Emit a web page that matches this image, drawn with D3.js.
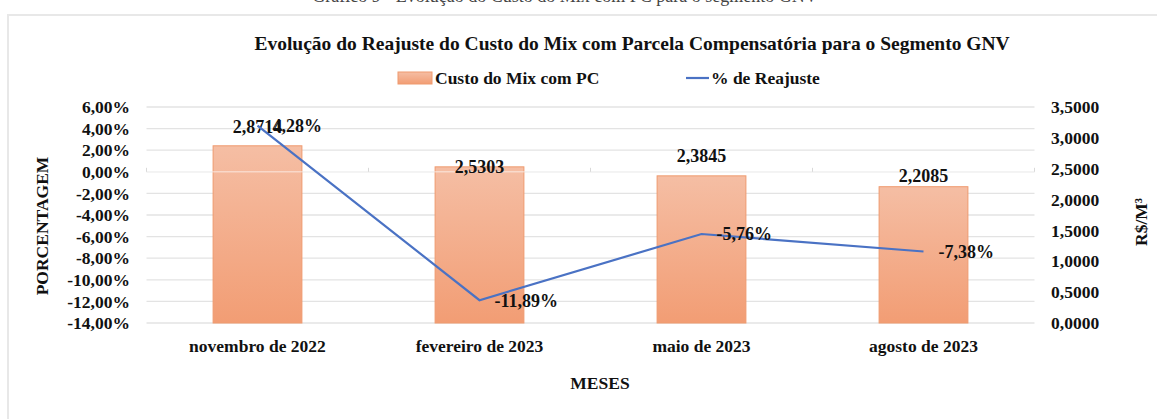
<!DOCTYPE html>
<html>
<head>
<meta charset="utf-8">
<script src="https://cdn.jsdelivr.net/npm/d3@7"></script>
<style>
body{margin:0;background:#fff;}
text{font-family:"Liberation Serif","Times New Roman",serif;}
</style>
</head>
<body>
<div id="chart-area"></div>
<script>
// dados
var meses=["novembro de 2022","fevereiro de 2023","maio de 2023","agosto de 2023"];
var custoMix=[2.8714,2.5303,2.3845,2.2085];
var reajuste=[4.28,-11.89,-5.76,-7.38];
var ticksPct=[6,4,2,0,-2,-4,-6,-8,-10,-12,-14];
var ticksRs=[0,0.5,1,1.5,2,2.5,3,3.5];

var W=1157,H=419;
var plot={left:146.5,right:1034.5,top:107,bottom:323};
var barLabelDy=[-19,0,-20,-11];
var fs="17.5px";

var svg=d3.select("#chart-area").append("svg")
    .attr("width",W)
    .attr("height",H);

// moldura
svg.append("path")
    .attr("d","M8,"+H+" L8,15 L"+W+",15")
    .attr("fill","none")
    .attr("stroke","#e8e8e8")
    .attr("stroke-width",2);

// legenda de cima (cortada)
svg.append("text")
    .attr("x",565)
    .attr("y",2)
    .attr("text-anchor","middle")
    .attr("font-size","18px")
    .attr("fill","#444")
    .text("Gráfico 9 - Evolução do Custo do Mix com PC para o segmento GNV");

var x=d3.scaleBand()
    .domain(meses)
    .range([plot.left,plot.right])
    .paddingInner(0.6)
    .paddingOuter(0.3);

var yPct=d3.scaleLinear()
    .domain([-14,6])
    .range([plot.bottom,plot.top]);

var yRs=d3.scaleLinear()
    .domain([0,3.5])
    .range([plot.bottom,plot.top]);

var fmtPct=function(d){return d3.format(".2f")(d).replace(".",",").replace("\u2212","-")+"%";};
var fmtRs=function(d){return d3.format(".4f")(d).replace(".",",");};

var defs=svg.append("defs");
var grad=defs.append("linearGradient")
    .attr("id","barGrad")
    .attr("x1",0).attr("y1",0).attr("x2",0).attr("y2",1);
grad.append("stop").attr("offset","0%").attr("stop-color","#f5bea4");
grad.append("stop").attr("offset","100%").attr("stop-color","#f29d74");

// grade
svg.append("g")
    .selectAll("line")
    .data(ticksPct)
    .enter().append("line")
    .attr("x1",plot.left)
    .attr("x2",plot.right)
    .attr("y1",function(d){return yPct(d);})
    .attr("y2",function(d){return yPct(d);})
    .attr("stroke","#e3e3e3")
    .attr("stroke-width",1.3);

// eixos
var leftAxis=d3.axisLeft(yPct).tickValues(ticksPct).tickSize(0).tickPadding(0).tickFormat(fmtPct);
var gl=svg.append("g")
    .attr("transform","translate(130,0)")
    .call(leftAxis);
gl.select(".domain").remove();
gl.selectAll("text")
    .attr("font-size",fs)
    .attr("font-weight","bold")
    .attr("fill","#111");

var rightAxis=d3.axisRight(yRs).tickValues(ticksRs).tickSize(0).tickPadding(0).tickFormat(fmtRs);
var gr=svg.append("g")
    .attr("transform","translate(1051,0)")
    .call(rightAxis);
gr.select(".domain").remove();
gr.selectAll("text")
    .attr("font-size",fs)
    .attr("font-weight","bold")
    .attr("fill","#111");

// barras
svg.append("g")
    .selectAll("rect")
    .data(custoMix)
    .enter().append("rect")
    .attr("x",function(d,i){return x(meses[i]);})
    .attr("y",function(d){return yRs(d);})
    .attr("width",x.bandwidth())
    .attr("height",function(d){return yRs(0)-yRs(d);})
    .attr("fill","url(#barGrad)")
    .attr("stroke","#ef9a6e")
    .attr("stroke-width",1);

// linha do eixo de categorias (em 0%)
var step=x.step();
svg.append("line")
    .attr("x1",plot.left)
    .attr("x2",plot.right)
    .attr("y1",yPct(0))
    .attr("y2",yPct(0))
    .attr("stroke","#ffffff")
    .attr("stroke-opacity",0.45)
    .attr("stroke-width",1.5);
svg.append("g")
    .selectAll("line")
    .data(d3.range(meses.length+1))
    .enter().append("line")
    .attr("x1",function(i){return plot.left+i*step;})
    .attr("x2",function(i){return plot.left+i*step;})
    .attr("y1",yPct(0))
    .attr("y2",yPct(0)-4)
    .attr("stroke","#d9d9d9");

// rótulos das barras
svg.append("g")
    .selectAll("text")
    .data(custoMix)
    .enter().append("text")
    .attr("x",function(d,i){return x(meses[i])+x.bandwidth()/2;})
    .attr("y",function(d,i){return yRs(d)+barLabelDy[i];})
    .attr("dy","0.35em")
    .attr("text-anchor","middle")
    .attr("font-size","18px")
    .attr("font-weight","bold")
    .attr("fill","#111")
    .text(function(d){return fmtRs(d);});

// linha do reajuste
var line=d3.line()
    .x(function(d,i){return x(meses[i])+x.bandwidth()/2;})
    .y(function(d){return yPct(d);});

svg.append("path")
    .datum(reajuste)
    .attr("d",line)
    .attr("fill","none")
    .attr("stroke","#4a72c4")
    .attr("stroke-width",2.2);

svg.append("g")
    .selectAll("text")
    .data(reajuste)
    .enter().append("text")
    .attr("x",function(d,i){return x(meses[i])+x.bandwidth()/2+15;})
    .attr("y",function(d){return yPct(d);})
    .attr("dy","0.35em")
    .attr("font-size","18px")
    .attr("font-weight","bold")
    .attr("fill","#111")
    .text(function(d){return fmtPct(d);});

// rótulos do eixo x
svg.append("g")
    .selectAll("text")
    .data(meses)
    .enter().append("text")
    .attr("x",function(d){return x(d)+x.bandwidth()/2;})
    .attr("y",352)
    .attr("text-anchor","middle")
    .attr("font-size",fs)
    .attr("font-weight","bold")
    .attr("fill","#111")
    .text(function(d){return d;});

// títulos
svg.append("text")
    .attr("x",632)
    .attr("y",50)
    .attr("text-anchor","middle")
    .attr("font-size","19.5px")
    .attr("font-weight","bold")
    .attr("fill","#111")
    .text("Evolução do Reajuste do Custo do Mix com Parcela Compensatória para o Segmento GNV");

svg.append("text")
    .attr("x",600)
    .attr("y",389)
    .attr("text-anchor","middle")
    .attr("font-size",fs)
    .attr("font-weight","bold")
    .attr("fill","#111")
    .text("MESES");

svg.append("text")
    .attr("transform","translate(48,226) rotate(-90)")
    .attr("text-anchor","middle")
    .attr("font-size",fs)
    .attr("font-weight","bold")
    .attr("fill","#111")
    .text("PORCENTAGEM");

svg.append("text")
    .attr("transform","translate(1147,222) rotate(-90)")
    .attr("text-anchor","middle")
    .attr("font-size",fs)
    .attr("font-weight","bold")
    .attr("fill","#111")
    .text("R$/M³");

// legenda
var legend=svg.append("g");
legend.append("rect")
    .attr("x",398).attr("y",72)
    .attr("width",34).attr("height",12)
    .attr("fill","url(#barGrad)")
    .attr("stroke","#ef9a6e");
legend.append("text")
    .attr("x",435).attr("y",78).attr("dy","0.35em")
    .attr("font-size",fs).attr("font-weight","bold").attr("fill","#111")
    .text("Custo do Mix com PC");
legend.append("line")
    .attr("x1",686).attr("x2",709)
    .attr("y1",78).attr("y2",78)
    .attr("stroke","#4a72c4").attr("stroke-width",2.2);
legend.append("text")
    .attr("x",711).attr("y",78).attr("dy","0.35em")
    .attr("font-size",fs).attr("font-weight","bold").attr("fill","#111")
    .text("% de Reajuste");
</script>
</body>
</html>
